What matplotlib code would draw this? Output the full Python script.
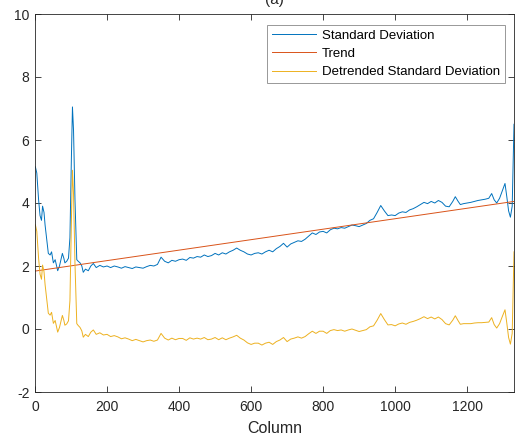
import numpy as np
import matplotlib
matplotlib.use("Agg")
import matplotlib.pyplot as plt

# values
columns = [1, 5, 10, 14, 18, 21, 25, 28, 33, 37, 42, 46, 51, 56, 63, 68, 72, 76, 80, 83,
           88, 93, 97, 101, 104, 107, 111, 116, 120, 125, 130, 134, 140, 148, 155, 162, 170, 180, 190, 200,
           210, 220, 230, 240, 250, 260, 270, 280, 290, 300, 310, 320, 330, 340, 350, 360, 370, 380, 390, 400,
           410, 420, 430, 440, 450, 460, 470, 480, 490, 500, 510, 520, 530, 540, 550, 560, 570, 580, 590, 600,
           610, 620, 630, 640, 650, 660, 670, 680, 690, 700, 710, 720, 730, 740, 750, 760, 770, 780, 790, 800,
           810, 820, 830, 840, 850, 860, 870, 880, 890, 900, 910, 920, 930, 940, 950, 960, 970, 980, 990, 1000,
           1010, 1020, 1030, 1040, 1050, 1060, 1070, 1080, 1090, 1100, 1110, 1120, 1130, 1140, 1150, 1160, 1167, 1175, 1181, 1190,
           1200, 1210, 1220, 1230, 1240, 1250, 1260, 1268, 1275, 1282, 1290, 1298, 1305, 1310, 1315, 1320, 1325, 1330]

std_dev = [5.15, 4.95, 4.10, 3.60, 3.45, 3.90, 3.70, 3.30, 2.80, 2.40, 2.35, 2.45, 2.10, 2.20, 1.85, 2.00, 2.20, 2.40, 2.25, 2.10,
           2.15, 2.25, 2.90, 5.40, 7.05, 6.30, 4.10, 2.20, 2.15, 2.10, 2.00, 1.80, 1.90, 1.85, 2.00, 2.08, 1.95, 2.02, 1.97, 2.00,
           1.95, 2.00, 1.97, 1.93, 1.98, 1.95, 1.92, 1.97, 1.95, 1.93, 1.98, 2.02, 2.00, 2.05, 2.28, 2.15, 2.10, 2.18, 2.15, 2.20,
           2.22, 2.18, 2.27, 2.25, 2.30, 2.28, 2.35, 2.30, 2.33, 2.40, 2.35, 2.42, 2.38, 2.45, 2.50, 2.57, 2.50, 2.45, 2.38, 2.35,
           2.40, 2.42, 2.38, 2.45, 2.50, 2.45, 2.55, 2.62, 2.72, 2.60, 2.70, 2.75, 2.80, 2.78, 2.85, 2.95, 3.05, 3.00, 3.08, 3.10,
           3.05, 3.15, 3.20, 3.18, 3.22, 3.20, 3.25, 3.30, 3.28, 3.25, 3.30, 3.35, 3.45, 3.50, 3.70, 3.92, 3.75, 3.60, 3.62, 3.60,
           3.68, 3.72, 3.70, 3.78, 3.82, 3.88, 3.95, 4.02, 3.98, 4.05, 4.00, 4.08, 4.02, 3.90, 3.88, 4.05, 4.20, 4.05, 3.95, 3.98,
           4.00, 4.02, 4.05, 4.08, 4.10, 4.12, 4.15, 4.30, 4.10, 4.00, 4.15, 4.40, 4.62, 4.20, 3.75, 3.55, 3.90, 6.50]

detrended = [3.31, 3.10, 2.24, 1.74, 1.58, 2.03, 1.82, 1.41, 0.91, 0.50, 0.44, 0.53, 0.18, 0.27, -0.10, 0.05, 0.24, 0.43, 0.28, 0.12,
             0.16, 0.26, 0.90, 3.39, 5.04, 4.28, 2.08, 0.17, 0.11, 0.05, -0.06, -0.26, -0.17, -0.24, -0.10, -0.03, -0.17, -0.12, -0.19, -0.17,
             -0.24, -0.21, -0.25, -0.31, -0.28, -0.32, -0.37, -0.33, -0.37, -0.41, -0.37, -0.35, -0.39, -0.35, -0.14, -0.29, -0.35, -0.29, -0.34, -0.30,
             -0.30, -0.36, -0.28, -0.32, -0.29, -0.32, -0.27, -0.34, -0.32, -0.27, -0.34, -0.28, -0.34, -0.29, -0.25, -0.20, -0.29, -0.35, -0.44, -0.49,
             -0.45, -0.45, -0.51, -0.45, -0.42, -0.49, -0.40, -0.35, -0.27, -0.40, -0.32, -0.29, -0.25, -0.29, -0.24, -0.15, -0.07, -0.14, -0.07, -0.07,
             -0.14, -0.05, -0.02, -0.05, -0.03, -0.07, -0.03, 0.00, -0.04, -0.08, -0.05, -0.02, 0.07, 0.10, 0.28, 0.49, 0.30, 0.13, 0.14, 0.10,
             0.16, 0.19, 0.15, 0.21, 0.24, 0.28, 0.33, 0.39, 0.33, 0.38, 0.32, 0.38, 0.30, 0.17, 0.13, 0.28, 0.42, 0.26, 0.15, 0.17,
             0.17, 0.17, 0.19, 0.20, 0.20, 0.21, 0.22, 0.36, 0.14, 0.03, 0.17, 0.41, 0.61, 0.19, -0.27, -0.48, -0.14, 2.45]

trend_columns = [1, 1330]
trend_values = [1.84, 4.05]

plt.rcParams["font.family"] = ["Liberation Sans", "DejaVu Sans"]
plt.rcParams["axes.unicode_minus"] = False

fig = plt.figure(figsize=(5.16, 4.37), dpi=100)
ax = fig.add_axes([35 / 516, 45 / 437, 479 / 516, 378 / 437])

ax.plot(columns, std_dev, color="#0072BD", lw=0.7, label="Standard Deviation")
ax.plot(trend_columns, trend_values, color="#D95319", lw=0.7, label="Trend")
ax.plot(columns, detrended, color="#EDB120", lw=0.7, label="Detrended Standard Deviation")

ax.set_xlim(0, 1330)
ax.set_ylim(-2, 10)
ax.set_xticks(np.arange(0, 1201, 200))
ax.set_yticks(np.arange(-2, 11, 2))
ax.tick_params(direction="in", top=True, right=True, length=4, width=0.6,
               colors="#262626", labelsize=10)
ax.tick_params(axis="x", pad=6)
ax.tick_params(axis="y", pad=4)
for sp in ax.spines.values():
    sp.set_color("#262626")
    sp.set_linewidth(0.6)

ax.set_xlabel("Column", fontsize=11.5, color="#262626", labelpad=5)
# title sits mostly above the figure edge, as in the reference
ax.set_title("(a)", fontsize=11, color="#262626", pad=7)

leg = ax.legend(loc="upper right", bbox_to_anchor=(0.981, 0.971), borderaxespad=0,
                fontsize=9.5, frameon=True, fancybox=False, handlelength=3.3,
                labelspacing=0.45, borderpad=0.35, handletextpad=0.5)
leg.get_frame().set_edgecolor("#7f7f7f")
leg.get_frame().set_linewidth(0.7)

fig.savefig("out.png", dpi=100)
